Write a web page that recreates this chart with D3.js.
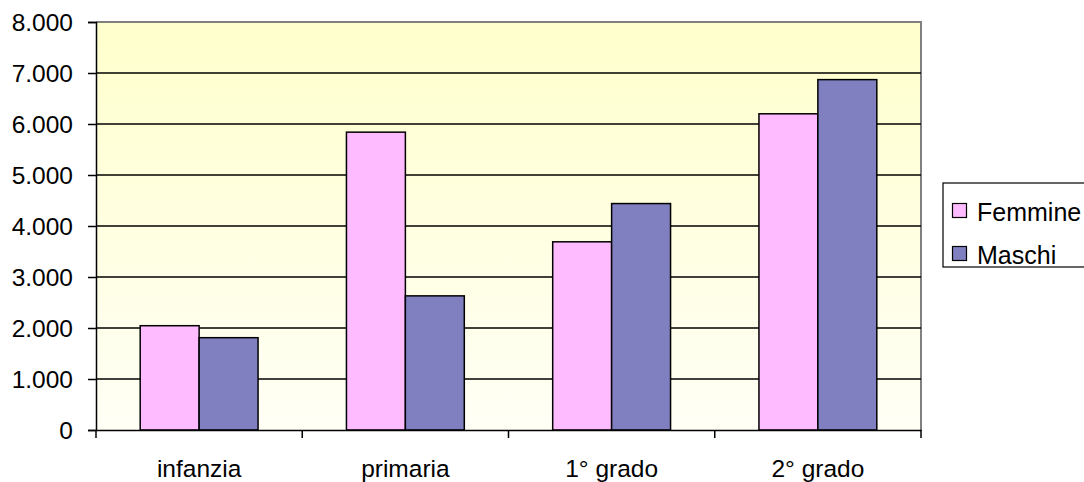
<!DOCTYPE html>
<html lang="it">
<head>
<meta charset="UTF-8">
<title>Femmine / Maschi</title>
<script src="https://d3js.org/d3.v7.min.js"></script>
<style>
    body { margin: 0; background: #fff; }
    text { font-family: 'Liberation Sans', Arial, sans-serif; font-size: 24.5px; fill: #000; }
</style>
</head>
<body>
<script>
    const width = 1084;
    const height = 482;
    const plot = {left: 96, right: 921, top: 22, bottom: 430};
    const fontFamily = "'Liberation Sans', Arial, sans-serif";

    const categories = ['infanzia', 'primaria', '1° grado', '2° grado'];
    const seriesNames = ['Femmine', 'Maschi'];
    const femmine = [2045, 5840, 3690, 6200];
    const maschi = [1810, 2630, 4440, 6870];
    const yTicks = [0, 1000, 2000, 3000, 4000, 5000, 6000, 7000, 8000];
    const colours = ['#ffbbff', '#8080c0'];

    const svg = d3.select('body').append('svg')
        .attr('width', width)
        .attr('height', height);

    const defs = svg.append('defs');
    const grad = defs.append('linearGradient')
        .attr('id', 'bg')
        .attr('x1', 0).attr('y1', 0).attr('x2', 0).attr('y2', 1);
    grad.append('stop').attr('offset', '0%').attr('stop-color', '#ffffcc');
    grad.append('stop').attr('offset', '100%').attr('stop-color', '#fffff6');

    const x = d3.scaleBand()
        .domain(categories)
        .range([plot.left, plot.right]);

    const y = d3.scaleLinear()
        .domain([0, 8000])
        .range([plot.bottom, plot.top]);

    // bar width as excel gap width 150
    const barW = x.bandwidth() / 3.5;

    // plot area
    svg.append('rect')
        .attr('x', plot.left)
        .attr('y', plot.top)
        .attr('width', plot.right - plot.left)
        .attr('height', plot.bottom - plot.top)
        .style('fill', 'url(#bg)');

    // gray border top and right
    svg.append('path')
        .attr('d', 'M' + plot.left + ',' + plot.top + 'H' + plot.right + 'V' + plot.bottom)
        .style('fill', 'none')
        .style('stroke', '#808080')
        .style('stroke-width', 2);

    // gridlines
    svg.append('g').selectAll('line')
        .data(yTicks.filter(d => d > 0 && d < 8000))
        .join('line')
        .attr('x1', plot.left)
        .attr('x2', plot.right)
        .attr('y1', d => y(d))
        .attr('y2', d => y(d))
        .style('stroke', '#000')
        .style('stroke-width', 1.5);

    // bars
    const data = categories.map((c, i) => ({cat: c, vals: [femmine[i], maschi[i]]}));
    const groups = svg.append('g').selectAll('g')
        .data(data)
        .join('g');

    groups.selectAll('rect')
        .data(d => d.vals.map((v, j) => ({cat: d.cat, v: v, j: j})))
        .join('rect')
        .attr('x', d => x(d.cat) + x.bandwidth() / 2 - barW + d.j * barW)
        .attr('y', d => y(d.v))
        .attr('width', barW)
        .attr('height', d => y(0) - y(d.v))
        .style('fill', d => colours[d.j])
        .style('stroke', '#000')
        .style('stroke-width', 1.5);

    // y axis
    const yAxis = svg.append('g')
        .attr('transform', 'translate(' + plot.left + ',0)')
        .call(d3.axisLeft(y)
            .tickValues(yTicks)
            .tickSize(8)
            .tickFormat(d => d3.format(',')(d).replace(/,/g, '.')));
    yAxis.select('.domain').style('stroke', '#000').style('stroke-width', 1.5);
    yAxis.selectAll('.tick line').style('stroke', '#000').style('stroke-width', 1.5);
    yAxis.selectAll('.tick text')
        .attr('x', -23)
        .attr('dy', '0.36em')
        .style('font-size', '24.5px')
        .style('font-family', fontFamily);

    // x axis
    const xAxis = svg.append('g')
        .attr('transform', 'translate(0,' + plot.bottom + ')')
        .call(d3.axisBottom(x).tickSize(0));
    xAxis.select('.domain').style('stroke', '#000').style('stroke-width', 1.5);
    xAxis.selectAll('.tick text')
        .attr('y', 47)
        .attr('dy', 0)
        .style('font-size', '24.5px')
        .style('font-family', fontFamily);

    // category separator ticks
    svg.append('g').selectAll('line')
        .data(d3.range(categories.length + 1))
        .join('line')
        .attr('x1', i => plot.left + i * x.bandwidth())
        .attr('x2', i => plot.left + i * x.bandwidth())
        .attr('y1', plot.bottom)
        .attr('y2', plot.bottom + 8)
        .style('stroke', '#000')
        .style('stroke-width', 1.5);

    // legend
    const legend = svg.append('g').attr('transform', 'translate(943,183)');
    legend.append('rect')
        .attr('width', 150)
        .attr('height', 84)
        .style('fill', '#fff')
        .style('stroke', '#000')
        .style('stroke-width', 1.2);

    seriesNames.forEach((name, i) => {
        legend.append('rect')
            .attr('x', 9.5)
            .attr('y', 20.5 + i * 43)
            .attr('width', 14)
            .attr('height', 14)
            .style('fill', colours[i])
            .style('stroke', '#000')
            .style('stroke-width', 1.2);
        legend.append('text')
            .attr('x', 34)
            .attr('y', 38 + i * 43)
            .style('font-size', '25px')
            .text(name);
    });
</script>
</body>
</html>
